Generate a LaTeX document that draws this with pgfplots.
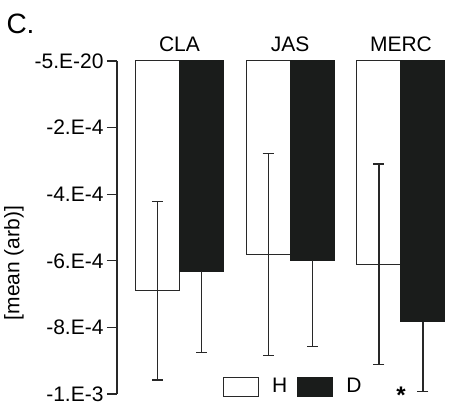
\documentclass[border=0pt]{standalone}
\usepackage{fontspec}
\setmainfont{Liberation Sans}
\usepackage{pgfplots}
\pgfplotsset{compat=1.18}
\definecolor{barblack}{RGB}{26,28,27}
\definecolor{edge}{RGB}{40,40,40}

\begin{document}
\begin{tikzpicture}[x=1bp,y=1bp,font=\fontsize{21bp}{25bp}\selectfont]
\useasboundingbox (-117,-23) rectangle (359,394);
\begin{axis}[
  at={(0,0)}, anchor=south west,
  width=343bp, height=333bp, scale only axis,
  clip=false,
  xmin=0.4357, xmax=3.533,
  ymin=-1e-3, ymax=0,
  axis y line*=left,
  axis x line*=top,
  x axis line style={draw=none},
  y axis line style={edge, line width=1.2bp},
  xtick={1,2,3}, xticklabels={CLA,JAS,MERC},
  major x tick style={draw=none},
  xticklabel style={inner sep=0pt, yshift=-1.3bp},
  ytick={-1e-3,-8e-4,-6e-4,-4e-4,-2e-4,0},
  yticklabels={-1.E-3,-8.E-4,-6.E-4,-4.E-4,-2.E-4,-5.E-20},
  scaled y ticks=false,
  tick align=outside,
  major tick length=10bp,
  major y tick style={edge, line width=1.2bp},
  ylabel={[mean (arb)]},
  every axis y label/.style={at={(axis description cs:-0.3003,0.3934)}, rotate=90, anchor=center},
  ybar=0pt, bar width=44bp,
  legend columns=2,
  legend style={draw=none, fill=none, inner sep=0pt,
    at={(axis description cs:0.309,0.0225)}, anchor=west,
    /tikz/every odd column/.append style={column sep=11bp},
    /tikz/every even column/.append style={column sep=8bp}},
  legend image code/.code={\draw[#1] (0bp,-9.5bp) rectangle (35bp,9.5bp);},
  error bars/error bar style={edge, line width=1.4bp},
  error bars/error mark options={edge, line width=1.4bp, mark size=5.5bp, rotate=90},
]
% H group (open bars)
\addplot[draw=edge, line width=1bp, fill=white,
  error bars/.cd, y dir=both, y explicit]
  coordinates {(1,-6.90e-4) +- (0,2.68e-4)
               (2,-5.81e-4) +- (0,3.03e-4)
               (3,-6.10e-4) +- (0,3.01e-4)};
% D group (filled bars)
\addplot[draw=barblack, line width=1bp, fill=barblack,
  error bars/.cd, y dir=minus, y explicit]
  coordinates {(1,-6.32e-4) +- (0,2.43e-4)
               (2,-5.99e-4) +- (0,2.59e-4)
               (3,-7.83e-4) +- (0,2.09e-4)};
\legend{H,D}
\node[anchor=center, font=\fontsize{24bp}{28bp}\selectfont\bfseries] at (axis cs:3,-1.005e-3) {*};
\end{axis}
\node[anchor=base west, font=\fontsize{28bp}{32bp}\selectfont] at (-114,361) {C.};
\end{tikzpicture}
\end{document}
